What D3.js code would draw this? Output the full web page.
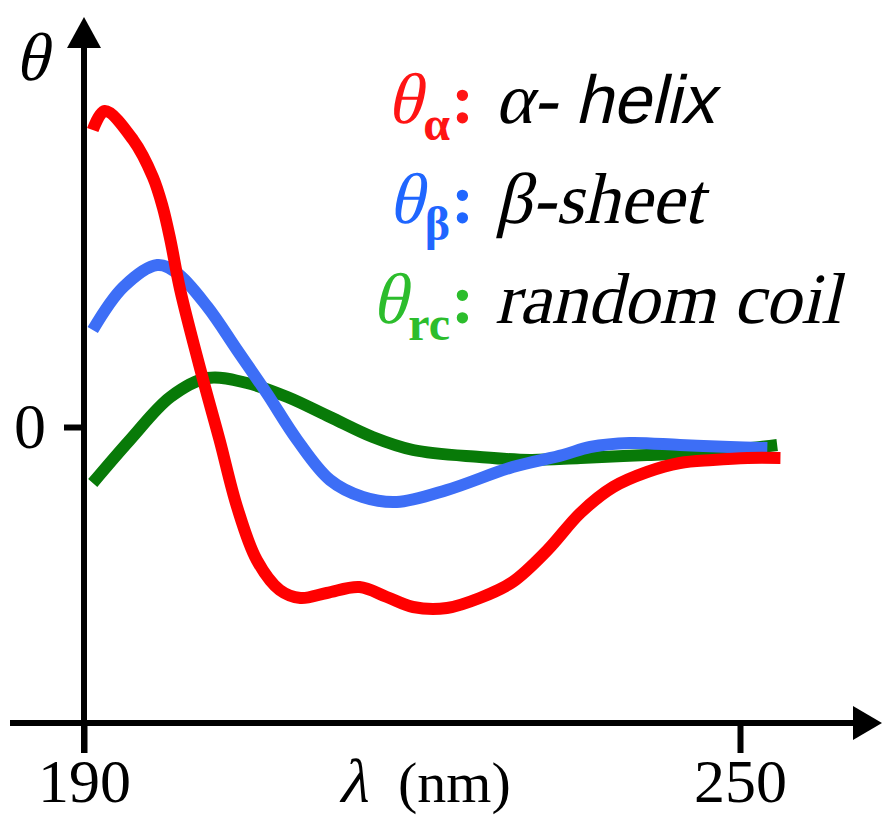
<!DOCTYPE html>
<html>
<head>
<meta charset="utf-8">
<script src="https://cdn.jsdelivr.net/npm/d3@7"></script>
<style>
	body { margin: 0; background: #fff; }
	svg { display: block; }
</style>
</head>
<body>
<svg id="cd-spectra" width="882" height="816"></svg>
<script>
// wavelength (nm) and ellipticity (arbitrary units)
var helixNm = [190.8, 191.9, 194.5, 196.3, 197.2, 197.9, 198.8, 200.9, 202.4, 204.0, 205.8, 207.9, 209.8, 212.2, 215.2, 217.7, 220.1, 223.2, 226.2, 229.2, 232.4, 235.4, 238.4, 241.5, 244.5, 247.5, 250.7, 253.7];
var helixTheta = [29.7, 31.6, 28.7, 25.0, 22.0, 18.7, 13.7, 4.7, -1.3, -8.0, -13.3, -16.3, -17.1, -16.6, -16.0, -17.0, -18.0, -18.1, -17.1, -15.5, -12.3, -8.6, -6.0, -4.5, -3.6, -3.3, -3.1, -3.1];

var sheetNm = [190.8, 193.6, 196.7, 198.5, 201.3, 204.0, 206.7, 209.5, 212.5, 215.5, 218.6, 223.2, 229.2, 233.8, 236.3, 239.9, 244.5, 249.1, 252.5];
var sheetTheta = [9.7, 14.0, 16.2, 15.4, 12.0, 7.7, 3.4, -1.3, -5.3, -7.0, -7.5, -6.3, -4.0, -2.8, -2.0, -1.6, -1.8, -2.0, -2.1];

var coilNm = [190.8, 194.2, 197.9, 201.3, 204.9, 208.6, 212.5, 216.4, 220.1, 226.2, 230.8, 235.4, 241.5, 247.5, 253.4];
var coilTheta = [-5.6, -1.3, 3.0, 4.9, 4.4, 3.0, 1.0, -1.0, -2.3, -3.0, -3.3, -3.1, -2.8, -2.5, -1.8];

var xTicks = [190, 250];
var yTicks = [0];

var legendSubs = ["α", "β", "rc"];
var legendNames = [["α- ", "helix"], ["β-sheet"], ["random coil"]];

var lineColors = ["#ff0000", "#3d6ef6", "#087a08"];
var labelColors = ["#ff1414", "#1f66ff", "#2cbd2c"];

var svg = d3.select('#cd-spectra'),
	width = +svg.attr("width"),
	height = +svg.attr("height");

var serif = "'Liberation Serif', 'Times New Roman', serif";
var sans = "'Liberation Sans', Arial, sans-serif";
var slant = -13;   // fake italic, the serif italic face falls back to sans here

var x = d3.scaleLinear()
	.domain([190, 250])
	.range([84, 740]);
var y = d3.scaleLinear()
	.domain([-29.6, 41])
	.range([723, 17]);

function zip(xs, ys) {
	return xs.map(function(d, i) { return {nm: d, v: ys[i]}; });
}
var series = [zip(coilNm, coilTheta), zip(sheetNm, sheetTheta), zip(helixNm, helixTheta)];
var seriesColors = [lineColors[2], lineColors[1], lineColors[0]];

var line = d3.line()
	.x(function(d) { return x(d.nm); })
	.y(function(d) { return y(d.v); })
	.curve(d3.curveCatmullRom.alpha(0.5));

// curves (green under blue under red)
svg.append("g")
	.attr("class", "curves")
	.selectAll("path")
	.data(series)
	.enter().append("path")
	.attr("d", line)
	.attr("fill", "none")
	.attr("stroke", function(d, i) { return seriesColors[i]; })
	.attr("stroke-width", 12)
	.attr("stroke-linecap", "butt")
	.attr("stroke-linejoin", "round");

// axes
var xAxisY = y.range()[0], yAxisX = x.range()[0];

svg.append("line")
	.attr("x1", 10).attr("x2", 856)
	.attr("y1", xAxisY).attr("y2", xAxisY)
	.attr("stroke", "#000").attr("stroke-width", 6);
svg.append("path")
	.attr("d", "M882," + xAxisY + "L853," + (xAxisY - 17) + "L853," + (xAxisY + 17) + "Z")
	.attr("fill", "#000");

svg.append("line")
	.attr("x1", yAxisX).attr("x2", yAxisX)
	.attr("y1", 45).attr("y2", 753)
	.attr("stroke", "#000").attr("stroke-width", 6);
svg.append("path")
	.attr("d", "M" + yAxisX + ",17L" + (yAxisX - 17) + ",48L" + (yAxisX + 17) + ",48Z")
	.attr("fill", "#000");

var xAxis = svg.append("g")
	.attr("class", "axis axis-x")
	.attr("transform", "translate(0," + xAxisY + ")")
	.call(d3.axisBottom(x).tickValues(xTicks).tickSize(30).tickFormat(d3.format("d")));
xAxis.select(".domain").remove();
xAxis.selectAll(".tick line").attr("stroke", "#000").attr("stroke-width", 6);
xAxis.selectAll(".tick text")
	.attr("y", 79).attr("dy", null)
	.attr("fill", "#000")
	.style("font-family", serif)
	.style("font-size", "62px");

var yAxis = svg.append("g")
	.attr("class", "axis axis-y")
	.attr("transform", "translate(" + yAxisX + ",0)")
	.call(d3.axisLeft(y).tickValues(yTicks).tickSize(20));
yAxis.select(".domain").remove();
yAxis.selectAll(".tick line").attr("stroke", "#000").attr("stroke-width", 6);
yAxis.selectAll(".tick text")
	.attr("x", -38).attr("dy", "0.32em")
	.attr("fill", "#000")
	.style("font-family", serif)
	.style("font-size", "64px");

function slanted(sel, px, py) {
	return sel.append("text")
		.attr("transform", "translate(" + px + "," + py + ") skewX(" + slant + ")")
		.style("font-family", serif);
}

// axis titles
slanted(svg, 15, 80)
	.style("font-size", "68px")
	.text("θ");

slanted(svg, 338, 802)
	.style("font-size", "62px")
	.text("λ");
svg.append("text")
	.attr("x", 398).attr("y", 802)
	.style("font-family", serif)
	.style("font-size", "58px")
	.text("(nm)");

// legend
var legend = svg.append("g").attr("class", "legend");
legendSubs.forEach(function(sub, i) {
	var base = 123 + i * 100;
	var subText = legend.append("text")
		.attr("x", 450).attr("y", base + 17)
		.attr("text-anchor", "end")
		.attr("fill", labelColors[i])
		.style("font-family", serif)
		.style("font-weight", "bold")
		.style("font-size", "48px")
		.text(sub);
	var subW = subText.node().getComputedTextLength();

	slanted(legend, 448 - subW, base)
		.attr("text-anchor", "end")
		.attr("fill", labelColors[i])
		.style("font-size", "72px")
		.text("θ");

	legend.append("text")
		.attr("x", 451).attr("y", base)
		.attr("fill", labelColors[i])
		.style("font-family", serif)
		.style("font-weight", "bold")
		.style("font-size", "70px")
		.text(":");

	var name = slanted(legend, 495, base)
		.attr("fill", "#000")
		.style("font-size", "72px");
	legendNames[i].forEach(function(part, j) {
		var t = name.append("tspan").text(part);
		if (j > 0) t.style("font-family", sans).style("font-size", "68px");
	});
});
</script>
</body>
</html>
